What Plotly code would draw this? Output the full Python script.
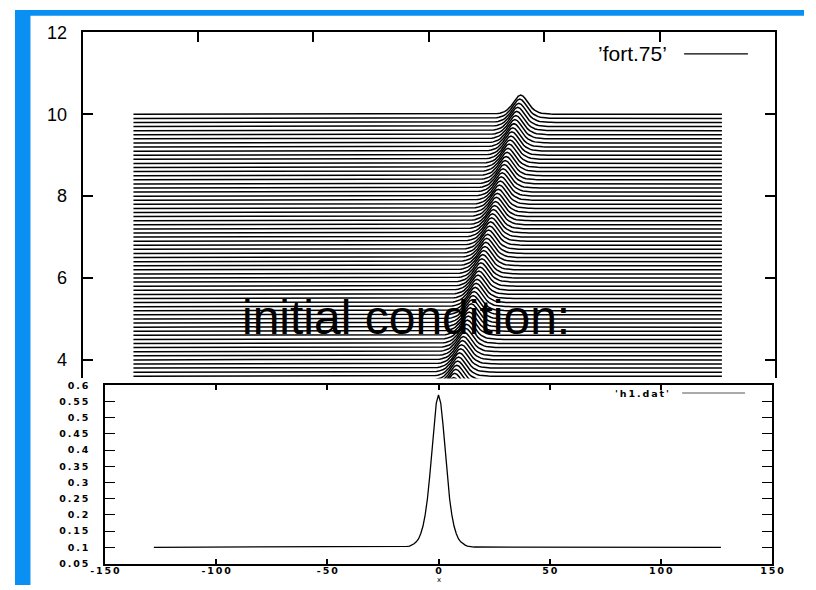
import plotly.graph_objects as go

# ---------------- data ----------------
# waterfall levels (baseline of each stacked curve in the upper panel)
levels = [10.0, 9.9, 9.8, 9.7, 9.6, 9.5, 9.4, 9.3, 9.2, 9.1,
          9.0, 8.9, 8.8, 8.7, 8.6, 8.5, 8.4, 8.3, 8.2, 8.1,
          8.0, 7.9, 7.8, 7.7, 7.6, 7.5, 7.4, 7.3, 7.2, 7.1,
          7.0, 6.9, 6.8, 6.7, 6.6, 6.5, 6.4, 6.3, 6.2, 6.1,
          6.0, 5.9, 5.8, 5.7, 5.6, 5.5, 5.4, 5.3, 5.2, 5.1,
          5.0, 4.9, 4.8, 4.7, 4.6, 4.5, 4.4, 4.3, 4.2, 4.1,
          4.0, 3.9, 3.8, 3.7, 3.6, 3.5, 3.4, 3.3, 3.2, 3.1, 3.0]
# soliton peak position for each stacked curve
centers = [39.8, 39.4, 39.0, 38.5, 38.1, 37.7, 37.3, 36.9, 36.4, 36.0,
           35.6, 35.2, 34.8, 34.3, 33.9, 33.5, 33.1, 32.7, 32.2, 31.8,
           31.4, 31.0, 30.6, 30.1, 29.7, 29.3, 28.9, 28.5, 28.0, 27.6,
           27.2, 26.8, 26.4, 25.9, 25.5, 25.1, 24.7, 24.3, 23.8, 23.4,
           23.0, 22.6, 22.2, 21.7, 21.3, 20.9, 20.5, 20.1, 19.6, 19.2,
           18.8, 18.4, 18.0, 17.5, 17.1, 16.7, 16.3, 15.9, 15.4, 15.0,
           14.6, 14.2, 13.8, 13.3, 12.9, 12.5, 12.1, 11.7, 11.2, 10.8, 10.4]
# pulse profile h(x), around its peak
profile_dx = [-16, -15, -14, -13, -12, -11, -10, -9, -8, -7, -6, -5, -4, -3, -2, -1, 0,
              1, 2, 3, 4, 5, 6, 7, 8, 9, 10, 11, 12, 13, 14, 15, 16]
profile_h = [0.101, 0.102, 0.103, 0.104, 0.107, 0.111, 0.117, 0.126, 0.142, 0.165,
             0.200, 0.249, 0.316, 0.396, 0.480, 0.545, 0.570,
             0.545, 0.480, 0.396, 0.316, 0.249, 0.200, 0.165, 0.142, 0.126,
             0.117, 0.111, 0.107, 0.104, 0.103, 0.102, 0.101]
h_baseline = 0.1
x_start, x_end = -128, 127
h1_center = 0.0

top_yticks = [4, 6, 8, 10, 12]
top_xticks = [-100, -50, 0, 50, 100]
bot_yticks = [0.05, 0.1, 0.15, 0.2, 0.25, 0.3, 0.35, 0.4, 0.45, 0.5, 0.55, 0.6]
bot_yticktext = ["0.05", "0.1", "0.15", "0.2", "0.25", "0.3", "0.35", "0.4", "0.45", "0.5", "0.55", "0.6"]
bot_xticks = [-150, -100, -50, 0, 50, 100, 150]
bot_xticktext = ["-150", "-100", "-50", "0", "50", "100", "150"]


def spaced(s):
    return "\u2009".join(list(s))


# ---------------- build traces ----------------
wx, wy = [], []
for lev, c in zip(levels, centers):
    xs = [x_start] + [c + d for d in profile_dx] + [x_end]
    ys = [lev] + [lev + (h - h_baseline) for h in profile_h] + [lev]
    wx += xs + [None]
    wy += ys + [None]

hx = [x_start] + [h1_center + d for d in profile_dx] + [x_end]
hy = [h_baseline] + profile_h + [h_baseline]

W, H = 816, 590


def px(x):
    return x / W


def py(y):
    return 1 - y / H


fig = go.Figure()
fig.add_trace(go.Scatter(x=wx, y=wy, mode="lines", xaxis="x", yaxis="y",
                         line=dict(color="black", width=1.5), showlegend=False,
                         hoverinfo="skip"))
fig.add_trace(go.Scatter(x=hx, y=hy, mode="lines", xaxis="x2", yaxis="y2",
                         line=dict(color="black", width=1.3), showlegend=False))

axis_common = dict(showgrid=False, zeroline=False, showline=True, linecolor="black",
                   ticks="inside", tickcolor="black")

small_font = dict(family="DejaVu Sans", size=9.5, color="black", weight="bold")

fig.update_layout(
    width=W, height=H,
    margin=dict(l=0, r=0, t=0, b=0),
    paper_bgcolor="white", plot_bgcolor="white",
    showlegend=False,
    xaxis=dict(domain=[px(70), px(786)], range=[-150, 150], side="top", anchor="y",
               tickvals=top_xticks, showticklabels=False, ticklen=10, tickwidth=1.5,
               linewidth=2, **axis_common),
    yaxis=dict(domain=[py(378), py(23)], range=[3.548, 12], anchor="x",
               tickvals=top_yticks, ticklen=10, tickwidth=1.5, linewidth=2,
               mirror="ticks", ticklabelstandoff=10,
               tickfont=dict(family="Liberation Sans", size=18, color="black"),
               **axis_common),
    xaxis2=dict(domain=[px(93), px(783)], range=[-150, 150], anchor="y2",
                tickvals=bot_xticks, ticktext=[spaced(t) for t in bot_xticktext],
                ticklen=5, tickwidth=1.5, linewidth=1.5, mirror="ticks",
                ticklabelstandoff=-3, tickfont=small_font,
                **axis_common),
    yaxis2=dict(domain=[py(568), py(385)], range=[0.05, 0.6], anchor="x2",
                tickvals=bot_yticks, ticktext=[spaced(t) for t in bot_yticktext],
                ticklen=10, tickwidth=1, linewidth=1.5, mirror="ticks",
                ticklabelstandoff=13, tickfont=small_font,
                **axis_common),
)

shapes = [
    # blue frame bands
    dict(type="rect", xref="paper", yref="paper", x0=0, x1=px(16), y0=0, y1=1,
         fillcolor="#0a8ff2", line=dict(width=0), layer="above"),
    dict(type="rect", xref="paper", yref="paper", x0=0, x1=1, y0=py(6), y1=1,
         fillcolor="#0a8ff2", line=dict(width=0), layer="above"),
    # legend samples
    dict(type="line", xref="paper", yref="paper", x0=px(692), x1=px(758), y0=py(45), y1=py(45),
         line=dict(color="black", width=1.2)),
    dict(type="line", xref="paper", yref="paper", x0=px(690), x1=px(755), y0=py(393), y1=py(393),
         line=dict(color="#555555", width=1)),
]
fig.update_layout(shapes=shapes)

fig.add_annotation(xref="paper", yref="paper", x=px(676), y=py(45), xanchor="right",
                   yanchor="middle", showarrow=False, text="’fort.75’",
                   font=dict(family="Liberation Sans", size=21, color="black"))
fig.add_annotation(xref="paper", yref="paper", x=px(678), y=py(393), xanchor="right",
                   yanchor="middle", showarrow=False, text=spaced("'h1.dat'"),
                   font=small_font)
fig.add_annotation(xref="paper", yref="paper", x=px(404), y=py(316), xanchor="center",
                   yanchor="middle", showarrow=False, text="initial condition:",
                   font=dict(family="Liberation Sans", size=48, color="black"))
fig.add_annotation(xref="paper", yref="paper", x=px(438), y=py(590), xanchor="center",
                   yanchor="bottom", showarrow=False, text="x", borderpad=0,
                   font=dict(family="DejaVu Sans", size=7, color="black"))

fig.write_html("out.html",
               post_script="document.body.style.margin='0';"
                           "document.body.style.overflow='hidden';")
